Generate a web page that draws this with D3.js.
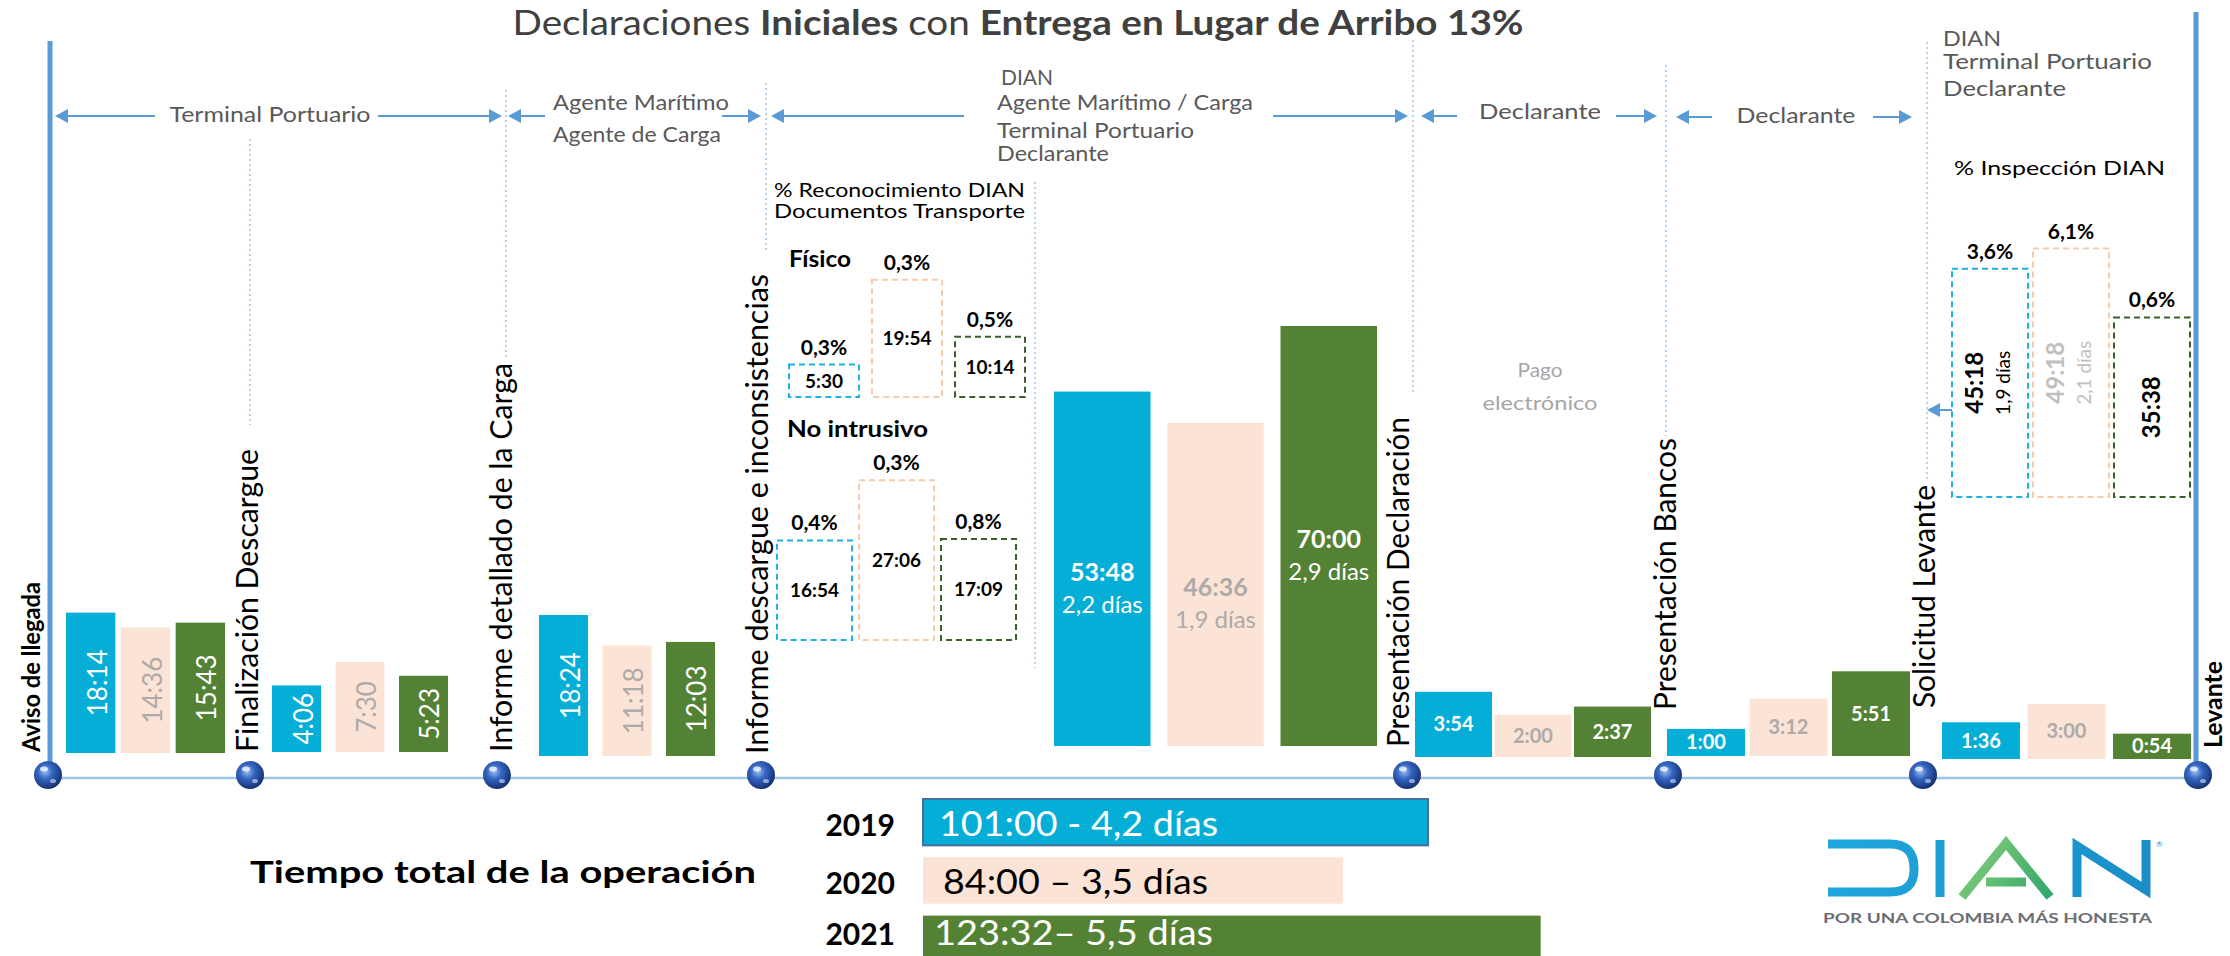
<!DOCTYPE html>
<html>
<head>
<meta charset="utf-8">
<script src="https://cdn.jsdelivr.net/npm/d3@7"></script>
<style>
    body { margin: 0; background: #fff; }
    svg { display: block; font-family: Lato, "Open Sans", sans-serif; }
</style>
</head>
<body>
<div class="svg-container"></div>
<script>
// ---- data ----
const years = ["2019", "2020", "2021"];
const milestones = [
    "Aviso de llegada",
    "Finalización Descargue",
    "Informe detallado de la Carga",
    "Informe descargue e inconsistencias",
    "Presentación Declaración",
    "Presentación Bancos",
    "Solicitud Levante",
    "Levante",
];
// hh:mm per step, one entry per year
const stepTimes = [
    ["18:14", "14:36", "15:43"],
    ["4:06", "7:30", "5:23"],
    ["18:24", "11:18", "12:03"],
    ["53:48", "46:36", "70:00"],
    ["3:54", "2:00", "2:37"],
    ["1:00", "3:12", "5:51"],
    ["1:36", "3:00", "0:54"],
];
const declaracionDays = ["2,2 días", "1,9 días", "2,9 días"];
const fisicoTimes = ["5:30", "19:54", "10:14"];
const fisicoPct = ["0,3%", "0,3%", "0,5%"];
const noIntrusivoTimes = ["16:54", "27:06", "17:09"];
const noIntrusivoPct = ["0,4%", "0,3%", "0,8%"];
const inspeccionTimes = ["45:18", "49:18", "35:38"];
const inspeccionPct = ["3,6%", "6,1%", "0,6%"];
const inspeccionDays = ["1,9 días", "2,1 días", ""];
const totalTimes = ["101:00", "84:00", "123:32"];
const totalLabels = ["101:00 - 4,2 días", "84:00 – 3,5 días", "123:32– 5,5 días"];
const actors = [
    ["Terminal Portuario"],
    ["Agente Marítimo", "Agente de Carga"],
    ["DIAN", "Agente Marítimo / Carga", "Terminal Portuario", "Declarante"],
    ["Declarante"],
    ["Declarante"],
    ["DIAN", "Terminal Portuario", "Declarante"],
];

// ---- layout & style ----
const WIDTH = 2230, HEIGHT = 956;
const YEAR_FILL = ["#05aed7", "#fbe3d5", "#548235"];
const YEAR_TEXT = ["#ffffff", "#aeaaaa", "#ffffff"];
const YEAR_DASH = ["#1cb3e0", "#f8cbad", "#3a5f2a"];
const ARROW = "#5b9bd5";
const LINE_LIGHT = "#9dc3e6";
const TIMELINE_Y = 778;
const BALL_Y = 775;
const MILESTONE_X = [48, 250, 497, 761, 1407, 1668, 1923, 2198];
const MILESTONE_LABEL = [
    { x: 40, y: 752, len: 170, size: 24, bold: true },
    { x: 258, y: 752, len: 303, size: 30 },
    { x: 512, y: 752, len: 389, size: 30 },
    { x: 768, y: 754, len: 480, size: 30 },
    { x: 1409, y: 747, len: 330, size: 30 },
    { x: 1676, y: 710, len: 272, size: 30 },
    { x: 1935, y: 708, len: 223, size: 30 },
    { x: 2222, y: 748, len: 87, size: 24, bold: true },
];
const PANELS = [
    { x0: 66, x1: 225, pad: 0.1, base: 753, style: "rotated" },
    { x0: 272, x1: 448, pad: 0.228, base: 752, style: "rotated" },
    { x0: 539, x1: 715, pad: 0.228, base: 756, style: "rotated" },
    { x0: 1054, x1: 1377, pad: 0.148, base: 746, style: "big" },
    { x0: 1415, x1: 1651, pad: 0.031, base: 757, style: "flat" },
    { x0: 1667, x1: 1910, pad: 0.055, base: 756, style: "flat" },
    { x0: 1942, x1: 2191, pad: 0.088, base: 759, style: "flat" },
];
const ACTOR_LAYOUT = [
    { y: 116, a0: 55, l0: 155, r0: 378, a1: 502, tx: 270, anchor: "middle", ty: [122], len: [201] },
    { y: 116, a0: 508, l0: 545, r0: 722, a1: 761, tx: 553, anchor: "start", ty: [110, 142], len: [176, 168] },
    { y: 116, a0: 771, l0: 964, r0: 1273, a1: 1408, tx: 997, anchor: "start", ty: [85, 110, 138, 161], len: [52, 256, 197, 112] },
    { y: 116, a0: 1421, l0: 1457, r0: 1616, a1: 1657, tx: 1540, anchor: "middle", ty: [119], len: [122] },
    { y: 117, a0: 1676, l0: 1712, r0: 1873, a1: 1912, tx: 1796, anchor: "middle", ty: [123], len: [119] },
    { tx: 1943, anchor: "start", ty: [46, 69, 96], len: [58, 209, 123] },
];
const DOTTED = [
    [250, 139, 425], [506, 90, 360], [766, 83, 250], [1035, 182, 668],
    [1413, 40, 394], [1666, 65, 436], [1927, 42, 482],
];

const hours = (s) => {
    const [h, m] = s.split(":").map(Number);
    return h + m / 60;
};

// bar heights in the original are compressed: sqrt for the first three
// (rotated-label) panels, a power scale for the rest
const smallBarHeight = d3.scaleSqrt().domain([0, 18.4]).range([0, 141]);
const barHeight = d3.scalePow().exponent(0.645).domain([0, 70]).range([0, 420]);
const reconHeight = d3.scaleLinear().domain([0, 28]).range([0, 165]);
const inspHeight = d3.scaleLinear().domain([0, 50]).range([0, 252]);
const totalWidth = d3.scaleLinear().domain([0, 100]).range([0, 500]);

const svg = d3
    .select(".svg-container")
    .append("svg")
    .attr("width", WIDTH)
    .attr("height", HEIGHT)
    .attr("viewBox", `0 0 ${WIDTH} ${HEIGHT}`);

svg.append("rect").attr("width", WIDTH).attr("height", HEIGHT).attr("fill", "#fff");

const defs = svg.append("defs");
const ballGrad = defs.append("radialGradient").attr("id", "ball").attr("cx", "40%").attr("cy", "38%").attr("r", "65%");
ballGrad.append("stop").attr("offset", "0%").attr("stop-color", "#9cc0f0");
ballGrad.append("stop").attr("offset", "40%").attr("stop-color", "#3566c4");
ballGrad.append("stop").attr("offset", "100%").attr("stop-color", "#142f6e");
const blueGrad = defs.append("linearGradient").attr("id", "logoBlue")
    .attr("gradientUnits", "userSpaceOnUse").attr("x1", 1820).attr("x2", 2160).attr("y1", 840).attr("y2", 900);
blueGrad.append("stop").attr("offset", "0%").attr("stop-color", "#20a8de");
blueGrad.append("stop").attr("offset", "100%").attr("stop-color", "#1a8cc6");
const greenGrad = defs.append("linearGradient").attr("id", "logoGreen")
    .attr("gradientUnits", "userSpaceOnUse").attr("x1", 1960).attr("x2", 2050).attr("y1", 840).attr("y2", 900);
greenGrad.append("stop").attr("offset", "0%").attr("stop-color", "#8dd07a");
greenGrad.append("stop").attr("offset", "100%").attr("stop-color", "#2fa66b");

function fit(sel, len) {
    return sel.attr("textLength", len).attr("lengthAdjust", "spacingAndGlyphs");
}

function arrowHead(g, x, y, dir) {
    g.append("path")
        .attr("d", `M${x},${y} L${x - dir * 13},${y - 7} L${x - dir * 13},${y + 7} Z`)
        .attr("fill", ARROW);
}

// ---- title ----
const title = svg
    .append("text")
    .attr("x", 1018)
    .attr("y", 35)
    .attr("text-anchor", "middle")
    .attr("font-size", 34)
    .attr("fill", "#404040");
title.append("tspan").text("Declaraciones ");
title.append("tspan").attr("font-weight", "bold").text("Iniciales");
title.append("tspan").text(" con ");
title.append("tspan").attr("font-weight", "bold").text("Entrega en Lugar de Arribo 13%");
fit(title, 1011);

// ---- dotted guides ----
svg.append("g")
    .selectAll("line")
    .data(DOTTED)
    .join("line")
    .attr("x1", (d) => d[0])
    .attr("x2", (d) => d[0])
    .attr("y1", (d) => d[1])
    .attr("y2", (d) => d[2])
    .attr("stroke", LINE_LIGHT)
    .attr("stroke-width", 1.5)
    .attr("stroke-dasharray", "2,3");

// ---- actor headers with arrows ----
const headers = svg.append("g").attr("fill", "#595959").attr("font-size", 22);
actors.forEach((lines, i) => {
    const lay = ACTOR_LAYOUT[i];
    if (lay.a0 !== undefined) {
        const g = headers.append("g");
        g.append("line").attr("x1", lay.a0 + 8).attr("x2", lay.l0).attr("y1", lay.y).attr("y2", lay.y)
            .attr("stroke", ARROW).attr("stroke-width", 2);
        g.append("line").attr("x1", lay.r0).attr("x2", lay.a1 - 8).attr("y1", lay.y).attr("y2", lay.y)
            .attr("stroke", ARROW).attr("stroke-width", 2);
        arrowHead(g, lay.a0, lay.y, -1);
        arrowHead(g, lay.a1, lay.y, 1);
    }
    lines.forEach((line, j) => {
        fit(headers.append("text")
            .attr("x", lay.tx + (line === "DIAN" && i === 2 ? 4 : 0))
            .attr("y", lay.ty[j])
            .attr("text-anchor", lay.anchor)
            .text(line), lay.len[j]);
    });
});

// ---- side notes ----
const notes = svg.append("g").attr("fill", "#000");
fit(notes.append("text").attr("x", 774).attr("y", 197).attr("font-size", 20).text("% Reconocimiento DIAN"), 251);
fit(notes.append("text").attr("x", 774).attr("y", 218).attr("font-size", 20).text("Documentos Transporte"), 251);
fit(notes.append("text").attr("x", 1954).attr("y", 175).attr("font-size", 20).text("% Inspección DIAN"), 211);
fit(notes.append("text").attr("x", 789).attr("y", 267).attr("font-size", 22).attr("font-weight", "bold").text("Físico"), 62);
fit(notes.append("text").attr("x", 787).attr("y", 437).attr("font-size", 22).attr("font-weight", "bold").text("No intrusivo"), 141);
fit(notes.append("text").attr("x", 1540).attr("y", 377).attr("font-size", 20).attr("fill", "#a6a6a6").attr("text-anchor", "middle").text("Pago"), 45);
fit(notes.append("text").attr("x", 1540).attr("y", 410).attr("font-size", 20).attr("fill", "#a6a6a6").attr("text-anchor", "middle").text("electrónico"), 115);

// ---- frame lines and timeline ----
svg.append("line").attr("x1", 50).attr("x2", 50).attr("y1", 41).attr("y2", BALL_Y)
    .attr("stroke", ARROW).attr("stroke-width", 5);
svg.append("line").attr("x1", 2196).attr("x2", 2196).attr("y1", 12).attr("y2", BALL_Y)
    .attr("stroke", ARROW).attr("stroke-width", 5);
svg.append("line").attr("x1", MILESTONE_X[0]).attr("x2", MILESTONE_X[7]).attr("y1", TIMELINE_Y).attr("y2", TIMELINE_Y)
    .attr("stroke", LINE_LIGHT).attr("stroke-width", 2.5);

// ---- step bars ----
const barsContainer = svg.append("g").classed("bars", true);
stepTimes.forEach((times, p) => {
    const panel = PANELS[p];
    const h = panel.style === "rotated" ? smallBarHeight : barHeight;
    const x = d3.scaleBand().domain(years).range([panel.x0, panel.x1]).paddingInner(panel.pad);
    const rows = times.map((t, i) => ({ year: years[i], i, label: t, value: hours(t) }));
    const g = barsContainer.append("g");
    g.selectAll("rect")
        .data(rows)
        .join("rect")
        .attr("x", (d) => x(d.year))
        .attr("y", (d) => panel.base - h(d.value))
        .attr("width", x.bandwidth())
        .attr("height", (d) => h(d.value))
        .attr("fill", (d) => YEAR_FILL[d.i]);

    if (panel.style === "rotated") {
        g.selectAll("text")
            .data(rows)
            .join("text")
            .attr("transform", (d) =>
                `translate(${x(d.year) + x.bandwidth() / 2 + 16}, ${panel.base - h(d.value) / 2}) rotate(-90)`)
            .attr("text-anchor", "middle")
            .attr("font-size", 26)
            .attr("fill", (d) => YEAR_TEXT[d.i])
            .text((d) => d.label);
    } else if (panel.style === "big") {
        const cy = (d) => panel.base - h(d.value) / 2;
        g.selectAll("text.main")
            .data(rows)
            .join("text")
            .classed("main", true)
            .attr("x", (d) => x(d.year) + x.bandwidth() / 2)
            .attr("y", (d) => cy(d) + 12)
            .attr("text-anchor", "middle")
            .attr("font-size", 25)
            .attr("font-weight", "bold")
            .attr("fill", (d) => YEAR_TEXT[d.i])
            .text((d) => d.label);
        g.selectAll("text.days")
            .data(rows)
            .join("text")
            .classed("days", true)
            .attr("x", (d) => x(d.year) + x.bandwidth() / 2)
            .attr("y", (d) => cy(d) + 44)
            .attr("text-anchor", "middle")
            .attr("font-size", 24)
            .attr("fill", (d) => YEAR_TEXT[d.i])
            .text((d) => declaracionDays[d.i]);
    } else {
        g.selectAll("text")
            .data(rows)
            .join("text")
            .attr("x", (d) => x(d.year) + x.bandwidth() / 2)
            .attr("y", (d) => panel.base - h(d.value) / 2 + 7)
            .attr("text-anchor", "middle")
            .attr("font-size", 20)
            .attr("font-weight", "bold")
            .attr("fill", (d) => YEAR_TEXT[d.i])
            .text((d) => d.label);
    }
});

// ---- dashed boxes (reconocimiento / inspección) ----
function dashedGroup(times, pcts, opts) {
    const x = d3.scaleBand().domain(years).range([opts.x0, opts.x1]).paddingInner(opts.pad);
    const rows = times.map((t, i) => ({ year: years[i], i, label: t, pct: pcts[i], value: hours(t) }));
    const g = svg.append("g");
    const top = (d) => opts.base - opts.scale(d.value);
    g.selectAll("rect")
        .data(rows)
        .join("rect")
        .attr("x", (d) => x(d.year))
        .attr("y", top)
        .attr("width", x.bandwidth())
        .attr("height", (d) => opts.scale(d.value))
        .attr("fill", "none")
        .attr("stroke", (d) => YEAR_DASH[d.i])
        .attr("stroke-width", 2)
        .attr("stroke-dasharray", "6,4");
    g.selectAll("text.pct")
        .data(rows)
        .join("text")
        .classed("pct", true)
        .attr("x", (d) => x(d.year) + x.bandwidth() / 2)
        .attr("y", (d) => top(d) - 10)
        .attr("text-anchor", "middle")
        .attr("font-size", 21)
        .attr("font-weight", "bold")
        .text((d) => d.pct);
    return { g, x, rows, top };
}

const fisico = dashedGroup(fisicoTimes, fisicoPct, { x0: 789, x1: 1025, pad: 0.157, base: 397, scale: reconHeight });
const noIntrusivo = dashedGroup(noIntrusivoTimes, noIntrusivoPct, { x0: 777, x1: 1016, pad: 0.085, base: 640, scale: reconHeight });
[[fisico, 397], [noIntrusivo, 640]].forEach(([grp, base]) => {
    grp.g.selectAll("text.val")
        .data(grp.rows)
        .join("text")
        .classed("val", true)
        .attr("x", (d) => grp.x(d.year) + grp.x.bandwidth() / 2)
        .attr("y", (d) => (grp.top(d) + base) / 2 + 7)
        .attr("text-anchor", "middle")
        .attr("font-size", 19)
        .attr("font-weight", "bold")
        .text((d) => d.label);
});

const inspeccion = dashedGroup(inspeccionTimes, inspeccionPct, { x0: 1952, x1: 2190, pad: 0.062, base: 497, scale: inspHeight });
const inspColor = ["#000", "#bfbfbf", "#000"];
inspeccion.g.selectAll("text.val")
    .data(inspeccion.rows)
    .join("text")
    .classed("val", true)
    .attr("transform", (d) => {
        const cx = inspeccion.x(d.year) + inspeccion.x.bandwidth() / 2 + (inspeccionDays[d.i] ? -7 : 8);
        return `translate(${cx}, ${(inspeccion.top(d) + 497) / 2}) rotate(-90)`;
    })
    .attr("text-anchor", "middle")
    .attr("font-size", 24)
    .attr("font-weight", "bold")
    .attr("fill", (d) => inspColor[d.i])
    .text((d) => d.label);
inspeccion.g.selectAll("text.days")
    .data(inspeccion.rows.filter((d) => inspeccionDays[d.i]))
    .join("text")
    .classed("days", true)
    .attr("transform", (d) => {
        const cx = inspeccion.x(d.year) + inspeccion.x.bandwidth() / 2 + 20;
        return `translate(${cx}, ${(inspeccion.top(d) + 497) / 2}) rotate(-90)`;
    })
    .attr("text-anchor", "middle")
    .attr("font-size", 19)
    .attr("fill", (d) => inspColor[d.i])
    .text((d) => inspeccionDays[d.i]);

// arrow from the inspection box back to "Solicitud Levante"
svg.append("line").attr("x1", 1952).attr("x2", 1937).attr("y1", 410).attr("y2", 410)
    .attr("stroke", ARROW).attr("stroke-width", 2);
arrowHead(svg, 1927, 410, -1);

// ---- milestone labels and balls ----
const milestoneG = svg.append("g");
milestoneG.selectAll("text")
    .data(milestones)
    .join("text")
    .attr("transform", (d, i) => `translate(${MILESTONE_LABEL[i].x}, ${MILESTONE_LABEL[i].y}) rotate(-90)`)
    .attr("font-size", (d, i) => MILESTONE_LABEL[i].size)
    .attr("font-weight", (d, i) => (MILESTONE_LABEL[i].bold ? "bold" : "normal"))
    .attr("fill", "#000")
    .attr("textLength", (d, i) => MILESTONE_LABEL[i].len)
    .attr("lengthAdjust", "spacingAndGlyphs")
    .text((d) => d);

const balls = milestoneG.selectAll("g.ball")
    .data(MILESTONE_X)
    .join("g")
    .classed("ball", true)
    .attr("transform", (d) => `translate(${d}, ${BALL_Y})`);
balls.append("circle").attr("r", 14).attr("fill", "url(#ball)");
balls.append("ellipse").attr("cx", -4).attr("cy", -6).attr("rx", 4).attr("ry", 2.5).attr("fill", "#fff").attr("opacity", 0.75);
balls.append("ellipse").attr("cx", 5).attr("cy", 6).attr("rx", 3).attr("ry", 2).attr("fill", "#d8e6ff").attr("opacity", 0.6);

// ---- total operation time ----
const totalY = d3.scaleBand().domain(years).range([799, 962]).paddingInner(0.205);
const textY = (d) => Math.min(totalY(d) + 37, 945);
const totals = svg.append("g");
fit(totals.append("text").attr("x", 250).attr("y", 883).attr("font-size", 31).attr("font-weight", "bold")
    .text("Tiempo total  de la operación"), 506);
totals.selectAll("text.year")
    .data(years)
    .join("text")
    .classed("year", true)
    .attr("x", 895)
    .attr("y", textY)
    .attr("text-anchor", "end")
    .attr("font-size", 30)
    .attr("font-weight", "bold")
    .text((d) => d);
totals.selectAll("rect")
    .data(years)
    .join("rect")
    .attr("x", 923)
    .attr("y", (d) => totalY(d))
    .attr("width", (d, i) => totalWidth(hours(totalTimes[i])))
    .attr("height", totalY.bandwidth())
    .attr("fill", (d, i) => YEAR_FILL[i])
    .attr("stroke", (d, i) => (i === 0 ? "#41719c" : "none"))
    .attr("stroke-width", 2);
totals.selectAll("text.total")
    .data(years)
    .join("text")
    .classed("total", true)
    .attr("x", (d, i) => [939, 943, 934][i])
    .attr("y", textY)
    .attr("font-size", 34)
    .attr("fill", (d, i) => (i === 1 ? "#000" : "#fff"))
    .attr("textLength", (d, i) => [279, 265, 279][i])
    .attr("lengthAdjust", "spacingAndGlyphs")
    .text((d, i) => totalLabels[i]);

// ---- DIAN logo ----
const logo = svg.append("g").attr("fill", "none").attr("stroke-width", 9).attr("stroke-linejoin", "miter");
logo.append("path")
    .attr("d", "M1828,844 H1890 Q1914,844 1914,868 V870 Q1914,892 1890,892 H1828")
    .attr("stroke", "url(#logoBlue)");
logo.append("path").attr("d", "M1940,840 V897").attr("stroke", "url(#logoBlue)");
logo.append("path").attr("d", "M1962,897 L2006,843 L2050,897").attr("stroke", "url(#logoGreen)");
logo.append("path").attr("d", "M1986,882 H2026").attr("stroke", "url(#logoGreen)");
logo.append("path").attr("d", "M2077,897 V846 L2146,890 V840").attr("stroke", "url(#logoBlue)");
svg.append("text").attr("x", 2156).attr("y", 847).attr("font-size", 8).attr("fill", "#1b8fc7").text("®");
fit(svg.append("text").attr("x", 1823).attr("y", 923).attr("font-size", 14).attr("font-weight", "bold")
    .attr("fill", "#6d6e71").text("POR UNA COLOMBIA MÁS HONESTA"), 329);
</script>
</body>
</html>
